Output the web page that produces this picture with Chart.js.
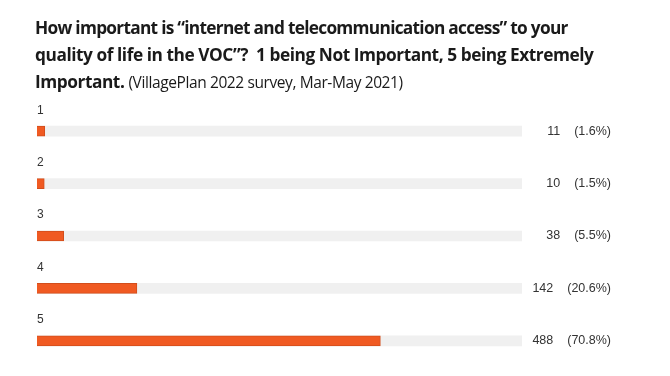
<!DOCTYPE html>
<html>
<head>
<meta charset="utf-8">
<script src="https://cdn.jsdelivr.net/npm/chart.js@4"></script>
<style>
  html, body { margin:0; padding:0; background:#fff; width:670px; height:376px; overflow:hidden; }
  #wrap { position:absolute; left:0; top:0; width:670px; height:376px; }
  #title { position:absolute; left:35px; top:14px; width:630px; font-family:"Open Sans", "Liberation Sans", sans-serif; color:#1a1a1a; }
  #title .l { white-space:nowrap; font-weight:700; font-size:17.3px; line-height:27px; letter-spacing:-0.45px; }
  #title .l1 { letter-spacing:-0.72px; }
  #title .sub { font-weight:400; font-size:15.5px; letter-spacing:-0.4px; }
  canvas { position:absolute; left:0; top:0; }
</style>
</head>
<body>
<div id="wrap">
  <canvas id="c" width="670" height="376"></canvas>
  <div id="title">
    <div class="l l1">How important is “internet and telecommunication access” to your</div>
    <div class="l">quality of life in the VOC”?&nbsp; 1 being Not Important, 5 being Extremely</div>
    <div class="l">Important. <span class="sub">(VillagePlan 2022 survey, Mar-May 2021)</span></div>
  </div>
</div>
<script>
const categories = ["1", "2", "3", "4", "5"];
const counts = [11, 10, 38, 142, 488];
const percents = [1.6, 1.5, 5.5, 20.6, 70.8];
const trackValues = [100, 100, 100, 100, 100];

const labelsPlugin = {
  id: 'rowLabels',
  afterDatasetsDraw(chart) {
    const ctx = chart.ctx;
    const meta = chart.getDatasetMeta(1);
    ctx.save();
    meta.data.forEach((bar, i) => {
      const y = bar.y;
      ctx.font = '12px "Liberation Sans", Arial, sans-serif';
      ctx.fillStyle = '#333';
      ctx.textAlign = 'left';
      ctx.textBaseline = 'middle';
      ctx.fillText(categories[i], chart.chartArea.left, y - 21);
      ctx.font = '12.5px "Liberation Sans", Arial, sans-serif';
      ctx.textAlign = 'right';
      const pctText = '(' + percents[i].toFixed(1) + '%)';
      const pr = 611;
      ctx.fillText(pctText, pr, y);
      const pw = ctx.measureText(pctText).width;
      ctx.fillText(String(counts[i]), pr - pw - 14, y);
    });
    ctx.restore();
  }
};

new Chart(document.getElementById('c'), {
  type: 'bar',
  data: {
    labels: categories,
    datasets: [
      {
        label: 'track',
        data: trackValues,
        backgroundColor: '#f0f0f0',
        borderWidth: 0,
        barThickness: 10,
        grouped: false,
        order: 2
      },
      {
        label: 'responses',
        data: percents,
        backgroundColor: '#F05A22',
        borderColor: '#D24E1C',
        borderWidth: 1,
        barThickness: 10,
        grouped: false,
        order: 1
      }
    ]
  },
  options: {
    indexAxis: 'y',
    responsive: false,
    animation: false,
    layout: { padding: { left: 37, right: 148, top: 105, bottom: 9 } },
    plugins: { legend: { display: false }, tooltip: { enabled: false }, title: { display: false } },
    scales: {
      x: { min: 0, max: 100, display: false },
      y: { display: false, grid: { display: false } }
    }
  },
  plugins: [labelsPlugin]
});
</script>
</body>
</html>
